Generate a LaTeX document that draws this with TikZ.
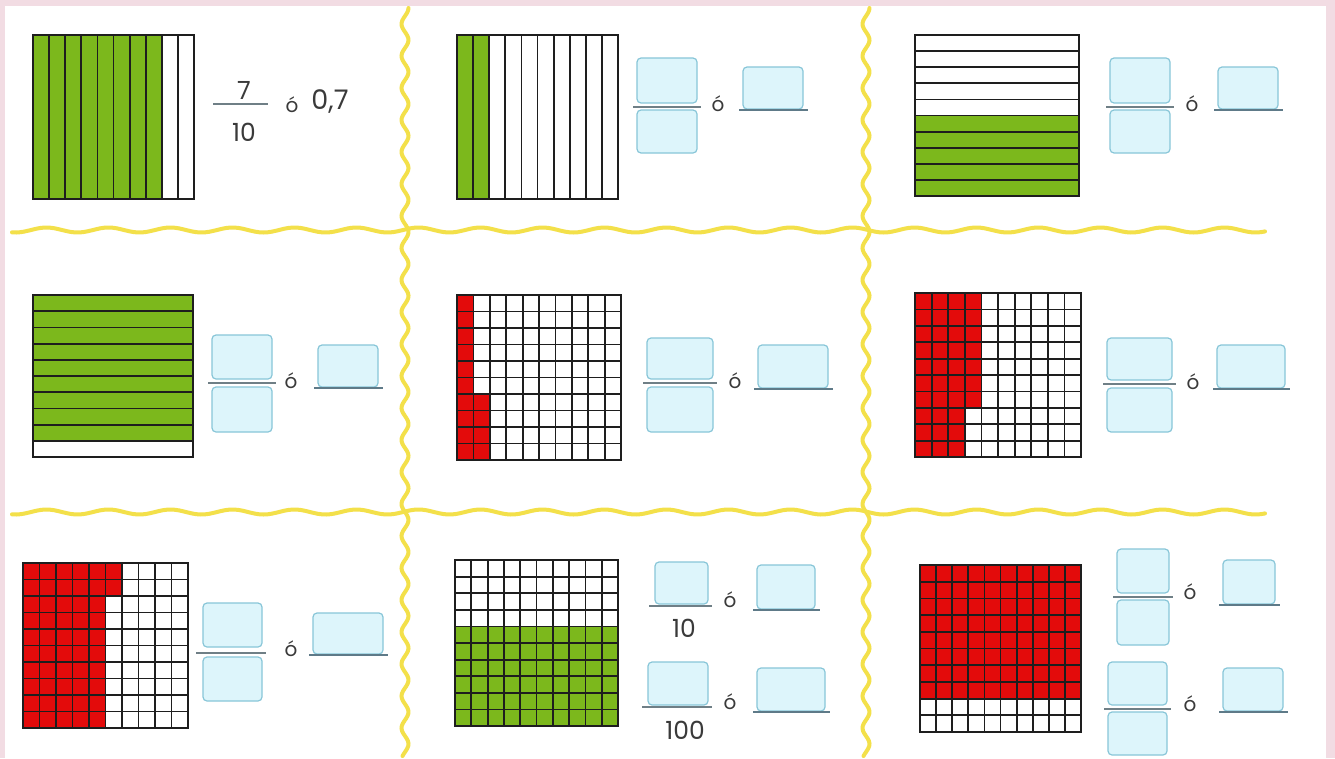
\documentclass[tikz,border=0pt]{standalone}
\usepackage{fontspec}
\setmainfont{Poppins}
\definecolor{pinkbg}{HTML}{F2DCE3}
\definecolor{wavey}{HTML}{F3E04A}
\definecolor{gridc}{HTML}{1E1E1E}
\definecolor{grn}{HTML}{7CB81C}
\definecolor{rd}{HTML}{E30B0B}
\definecolor{boxfill}{HTML}{DDF5FB}
\definecolor{boxline}{HTML}{88C6D8}
\definecolor{fracc}{HTML}{6F7F86}
\definecolor{ulc}{HTML}{5E7A88}
\definecolor{txtc}{HTML}{3A3A3A}
\tikzset{
  wave/.style={draw=wavey, line width=4pt, line cap=round},
  gl/.style={draw=gridc, line width=1.8pt},
  frame/.style={draw=gridc, line width=2.3pt},
  ansbox/.style={rectangle, rounded corners=4pt, draw=boxline, fill=boxfill, line width=1.2pt, inner sep=0pt},
  fline/.style={draw=fracc, line width=1.8pt},
  uline/.style={draw=ulc, line width=2pt},
  txt/.style={text=txtc, inner sep=0pt, font=\fontsize{25}{28}\selectfont},
  ortxt/.style={text=txtc, inner sep=0pt, font=\fontsize{20}{24}\selectfont},
}
\newcommand{\vlin}[4]{\foreach \i in {1,...,9}{\draw[gl] ({#1+\i*(#3)/10},#2) -- ({#1+\i*(#3)/10},{#2+#4});}}
\newcommand{\hlin}[4]{\foreach \i in {1,...,9}{\draw[gl] (#1,{#2+\i*(#4)/10}) -- ({#1+#3},{#2+\i*(#4)/10});}}
\newcommand{\frm}[4]{\draw[frame] (#1,#2) rectangle ({#1+#3},{#2+#4});}
\newcommand{\abox}[5]{\node[ansbox, minimum width={#4-#2}, minimum height={#5-#3}] (#1) at ({(#2+#4)/2},{(#3+#5)/2}) {};}
\newcommand{\frl}[1]{\draw[fline] ([xshift=-3pt,yshift=-3.5pt]#1.south west) -- ([xshift=3pt,yshift=-3.5pt]#1.south east);}
\newcommand{\unl}[1]{\draw[uline] ([xshift=-3pt]#1.south west) -- ([xshift=4pt]#1.south east);}
\begin{document}
\begin{tikzpicture}[x=1pt,y=-1pt]
\useasboundingbox (0,0) rectangle (1335,758);
\fill[pinkbg] (0,0) rectangle (1335,758);
\fill[white] (5,6) rectangle (1326,758);

% ---------- panel 1 ----------
\fill[grn] (33,35) rectangle ({33+8*16.1},199);
\vlin{33}{35}{161}{164}
\frm{33}{35}{161}{164}
\node[txt] (p1n) at (244,90) {7};
\node[txt] (p1d) at (244,132) {10};
\draw[fline] (213,104) -- (268,104);
\node[ortxt] (p1o) at (292,105) {ó};
\node[txt, font=\fontsize{27}{30}\selectfont] (p1v) at (330,102) {0,7};

% ---------- panel 2 ----------
\fill[grn] (457,35) rectangle ({457+2*16.1},199);
\vlin{457}{35}{161}{164}
\frm{457}{35}{161}{164}
\abox{n2}{637}{58}{697}{103}
\abox{d2}{637}{110}{697}{153}
\frl{n2}
\node[ortxt] (o2) at (718,104) {ó};
\abox{a2}{743}{67}{803}{109}
\unl{a2}

% ---------- panel 3 ----------
\fill[grn] (915,{35+5*16.1}) rectangle (1079,196);
\hlin{915}{35}{164}{161}
\frm{915}{35}{164}{161}
\abox{n3}{1110}{58}{1170}{103}
\abox{d3}{1110}{110}{1170}{153}
\frl{n3}
\node[ortxt] (o3) at (1192,104) {ó};
\abox{a3}{1218}{67}{1278}{109}
\unl{a3}

% ---------- panel 4 ----------
\fill[grn] (33,295) rectangle (193,{295+9*16.2});
\hlin{33}{295}{160}{162}
\frm{33}{295}{160}{162}
\abox{n4}{212}{335}{272}{379}
\abox{d4}{212}{387}{272}{432}
\frl{n4}
\node[ortxt] (o4) at (291,381) {ó};
\abox{a4}{318}{345}{378}{387}
\unl{a4}

% ---------- panel 5 ----------
\fill[rd] (457,295) rectangle ({457+16.4},460);
\fill[rd] ({457+16.4},{295+6*16.5}) rectangle ({457+2*16.4},460);
\vlin{457}{295}{164}{165}
\hlin{457}{295}{164}{165}
\frm{457}{295}{164}{165}
\abox{n5}{647}{338}{713}{379}
\abox{d5}{647}{387}{713}{432}
\frl{n5}
\node[ortxt] (o5) at (735,381) {ó};
\abox{a5}{758}{345}{828}{388}
\unl{a5}

% ---------- panel 6 ----------
\fill[rd] (915,293) rectangle ({915+3*16.6},457);
\fill[rd] ({915+3*16.6},293) rectangle ({915+4*16.6},{293+7*16.4});
\vlin{915}{293}{166}{164}
\hlin{915}{293}{166}{164}
\frm{915}{293}{166}{164}
\abox{n6}{1107}{338}{1172}{380}
\abox{d6}{1107}{388}{1172}{432}
\frl{n6}
\node[ortxt] (o6) at (1193,382) {ó};
\abox{a6}{1217}{345}{1285}{388}
\unl{a6}

% ---------- panel 7 ----------
\fill[rd] (23,563) rectangle ({23+5*16.5},728);
\fill[rd] ({23+5*16.5},563) rectangle ({23+6*16.5},{563+2*16.5});
\vlin{23}{563}{165}{165}
\hlin{23}{563}{165}{165}
\frm{23}{563}{165}{165}
\abox{n7}{203}{603}{262}{647}
\abox{d7}{203}{657}{262}{701}
\draw[fline] ([xshift=-6pt,yshift=-5pt]n7.south west) -- ([xshift=3pt,yshift=-5pt]n7.south east);
\node[ortxt] (o7) at (291,649) {ó};
\abox{a7}{313}{613}{383}{654}
\unl{a7}

% ---------- panel 8 ----------
\fill[grn] (455,{560+4*16.6}) rectangle (618,726);
\vlin{455}{560}{163}{166}
\hlin{455}{560}{163}{166}
\frm{455}{560}{163}{166}
\abox{n8a}{655}{562}{708}{604}
\draw[fline] ([xshift=-5pt,yshift=-1pt]n8a.south west) -- ([xshift=3pt,yshift=-1pt]n8a.south east);
\node[txt] (t10) at (684,628) {10};
\node[ortxt] (o8a) at (730,600) {ó};
\abox{a8a}{757}{565}{815}{609}
\unl{a8a}
\abox{n8b}{648}{662}{708}{705}
\draw[fline] ([xshift=-5pt,yshift=-1pt]n8b.south west) -- ([xshift=3pt,yshift=-1pt]n8b.south east);
\node[txt] (t100) at (685,730) {100};
\node[ortxt] (o8b) at (730,702) {ó};
\abox{a8b}{757}{668}{825}{711}
\unl{a8b}

% ---------- panel 9 ----------
\fill[rd] (920,565) rectangle (1081,{565+8*16.7});
\vlin{920}{565}{161}{167}
\hlin{920}{565}{161}{167}
\frm{920}{565}{161}{167}
\abox{n9a}{1117}{549}{1169}{593}
\abox{d9a}{1117}{600}{1169}{645}
\frl{n9a}
\node[ortxt] (o9a) at (1190,592) {ó};
\abox{a9a}{1223}{560}{1275}{604}
\unl{a9a}
\abox{n9b}{1108}{662}{1167}{705}
\abox{d9b}{1108}{712}{1167}{755}
\frl{n9b}
\node[ortxt] (o9b) at (1190,704) {ó};
\abox{a9b}{1223}{668}{1283}{711}
\unl{a9b}

% ---------- wavy separators ----------
\draw[wave] plot[domain=12:1265, samples=300, smooth, variable=\t] (\t,{230+2.5*sin(\t/62*360)});
\draw[wave] plot[domain=12:1265, samples=300, smooth, variable=\t] (\t,{512+2.5*sin(\t/62*360)});
\draw[wave] plot[domain=8:756, samples=300, smooth, variable=\t] ({405+3.5*sin(\t/32*360)},\t);
\draw[wave] plot[domain=8:756, samples=300, smooth, variable=\t] ({866+3.5*sin(\t/32*360)},\t);
\end{tikzpicture}
\end{document}
